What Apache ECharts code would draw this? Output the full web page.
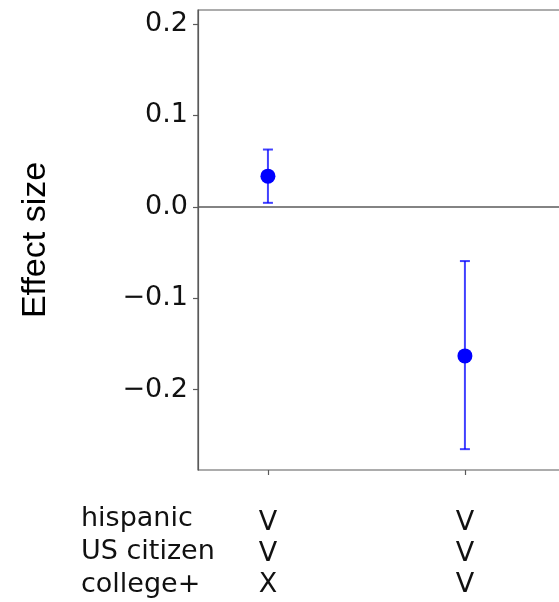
<!DOCTYPE html>
<html>
  <head>
    <meta charset="utf-8" />
    <title>Effect size</title>
    <script src="https://cdn.jsdelivr.net/npm/echarts@6/dist/echarts.min.js"></script>
  </head>
  <body style="margin: 0">
    <div id="main" style="width: 559px; height: 602px"></div>
  </body>

  <script>
    // condition rows shown under each point
    var rowNames = ["hispanic", "US citizen", "college+"];
    var groupFlags = [
      ["V", "V", "X"],
      ["V", "V", "V"],
    ];
    var groupPos = [0, 1];
    var effect = [0.0336, -0.163];
    var errLow = [0.0044, -0.265];
    var errHigh = [0.0627, -0.0593];
    var yTicks = [-0.2, -0.1, 0, 0.1, 0.2];

    var myChart = echarts.init(document.getElementById("main"));

    var pointData = groupPos.map(function (x, i) {
      return [x, effect[i]];
    });
    var barData = groupPos.map(function (x, i) {
      return [x, errLow[i], errHigh[i]];
    });

    var axisGray = "#5a5a5a";
    var tickFont = "DejaVu Sans";

    option = {
      backgroundColor: "#fff",
      animation: false,
      grid: {
        left: 198,
        right: -5,
        top: 10,
        bottom: 132,
        containLabel: false,
        outerBoundsMode: "none",
        show: true,
        borderColor: axisGray,
        borderWidth: 1.2,
      },
      xAxis: {
        type: "value",
        min: -0.355,
        max: 1.503,
        splitLine: { show: false },
        axisLine: { show: false, onZero: false },
        axisTick: {
          show: true,
          length: 5,
          customValues: groupPos,
          lineStyle: { color: axisGray, width: 1.2 },
        },
        axisLabel: {
          customValues: groupPos,
          margin: 37,
          fontFamily: tickFont,
          fontSize: 27,
          lineHeight: 31,
          color: "#111",
          formatter: function (v) {
            var i = groupPos.indexOf(Math.round(v));
            return i < 0 ? "" : groupFlags[i].join("\n");
          },
        },
      },
      yAxis: {
        type: "value",
        min: -0.2878,
        max: 0.2153,
        name: "Effect size",
        nameLocation: "middle",
        nameGap: 145,
        nameTextStyle: {
          fontFamily: "Liberation Sans",
          fontSize: 34,
          color: "#000",
        },
        splitLine: { show: false },
        axisLine: { show: true, onZero: false, lineStyle: { color: axisGray, width: 1.2 } },
        axisTick: {
          show: true,
          length: 5,
          customValues: yTicks,
          lineStyle: { color: axisGray, width: 1.2 },
        },
        axisLabel: {
          customValues: yTicks,
          margin: 10,
          fontFamily: tickFont,
          fontSize: 27,
          color: "#111",
          formatter: function (v) {
            return v < 0 ? "\u2212" + Math.abs(v).toFixed(1) : v.toFixed(1);
          },
        },
      },
      graphic: rowNames.map(function (name, i) {
        return {
          type: "text",
          left: 81,
          top: 505 + i * 33,
          style: {
            text: name,
            font: "27px DejaVu Sans",
            fill: "#111",
          },
        };
      }),
      series: [
        {
          name: "error",
          type: "custom",
          renderItem: function (params, api) {
            var x = api.value(0);
            var lo = api.coord([x, api.value(1)]);
            var hi = api.coord([x, api.value(2)]);
            var cap = 5;
            var style = { stroke: "rgba(0,0,255,0.75)", lineWidth: 2 };
            return {
              type: "group",
              children: [
                { type: "line", shape: { x1: lo[0], y1: lo[1], x2: hi[0], y2: hi[1] }, style: style },
                { type: "line", shape: { x1: lo[0] - cap, y1: lo[1], x2: lo[0] + cap, y2: lo[1] }, style: style },
                { type: "line", shape: { x1: hi[0] - cap, y1: hi[1], x2: hi[0] + cap, y2: hi[1] }, style: style },
              ],
            };
          },
          encode: { x: 0, y: [1, 2] },
          data: barData,
          z: 2,
        },
        {
          name: "effect",
          type: "scatter",
          symbol: "circle",
          symbolSize: 15,
          itemStyle: { color: "#0000ff", opacity: 1 },
          data: pointData,
          z: 3,
          markLine: {
            silent: true,
            symbol: "none",
            label: { show: false },
            lineStyle: { color: axisGray, type: "solid", width: 1.5 },
            data: [{ yAxis: 0 }],
          },
        },
      ],
    };

    myChart.setOption(option);
  </script>
</html>
